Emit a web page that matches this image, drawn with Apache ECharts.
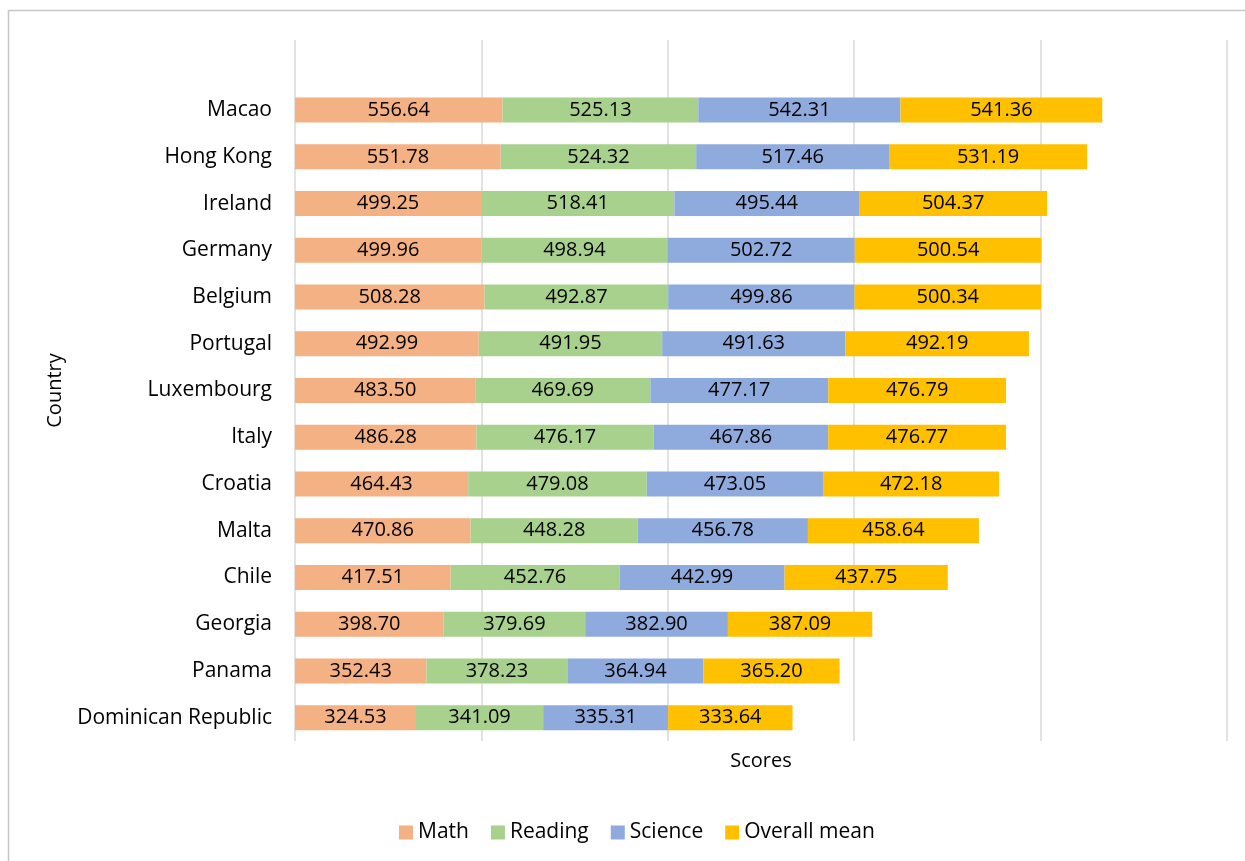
<!DOCTYPE html>
<html>
<head>
<meta charset="utf-8">
<script src="https://cdn.jsdelivr.net/npm/echarts@6/dist/echarts.min.js"></script>
<style>
  html, body { margin: 0; padding: 0; background: #fff; }
  #chart { width: 1245px; height: 861px; }
</style>
</head>
<body>
<div id="chart"></div>
<script>
// Countries, listed top to bottom
const countries = ['Macao', 'Hong Kong', 'Ireland', 'Germany', 'Belgium', 'Portugal', 'Luxembourg',
  'Italy', 'Croatia', 'Malta', 'Chile', 'Georgia', 'Panama', 'Dominican Republic'];

const math =    [556.64, 551.78, 499.25, 499.96, 508.28, 492.99, 483.50, 486.28, 464.43, 470.86, 417.51, 398.70, 352.43, 324.53];
const reading = [525.13, 524.32, 518.41, 498.94, 492.87, 491.95, 469.69, 476.17, 479.08, 448.28, 452.76, 379.69, 378.23, 341.09];
const science = [542.31, 517.46, 495.44, 502.72, 499.86, 491.63, 477.17, 467.86, 473.05, 456.78, 442.99, 382.90, 364.94, 335.31];
const overall = [541.36, 531.19, 504.37, 500.54, 500.34, 492.19, 476.79, 476.77, 472.18, 458.64, 437.75, 387.09, 365.20, 333.64];

const seriesNames = ['Math', 'Reading', 'Science', 'Overall mean'];
const seriesColors = ['#F4B183', '#A9D18E', '#8FAADC', '#FFC000'];

const FONT = 'Open Sans';

// an empty slot above the first country leaves headroom under the top of the grid
const yCats = [''].concat(countries);
const pad = arr => [null].concat(arr);

const chart = echarts.init(document.getElementById('chart'), null, { renderer: 'canvas' });

const mk = (name, data, color) => ({
  name: name,
  type: 'bar',
  stack: 'total',
  data: pad(data),
  barWidth: 25,
  itemStyle: { color: color },
  label: {
    show: true,
    position: 'inside',
    color: '#000',
    fontFamily: FONT,
    fontSize: 20,
    formatter: p => (p.value == null ? '' : Number(p.value).toFixed(2))
  },
  emphasis: { disabled: true }
});

chart.setOption({
  animation: false,
  backgroundColor: '#fff',
  textStyle: { fontFamily: FONT },
  graphic: [{
    type: 'rect',
    shape: { x: 8.5, y: 10.5, width: 1400, height: 1000 },
    style: { fill: 'none', stroke: '#c6c6c6', lineWidth: 1.5 },
    silent: true,
    z: -1
  }],
  legend: {
    data: seriesNames,
    left: 394,
    top: 817,
    itemWidth: 14,
    itemHeight: 14,
    itemGap: 22,
    icon: 'rect',
    textStyle: { fontFamily: FONT, fontSize: 21, color: '#000' }
  },
  grid: { left: 295, right: 18, top: 40, bottom: 120, containLabel: false },
  xAxis: {
    type: 'value',
    min: 0,
    max: 2500,
    interval: 500,
    name: 'Scores',
    nameLocation: 'middle',
    nameGap: 10,
    nameTextStyle: { fontFamily: FONT, fontSize: 20, color: '#000', verticalAlign: 'top' },
    axisLabel: { show: false },
    axisTick: { show: false },
    axisLine: { show: false },
    splitLine: { show: true, lineStyle: { color: '#d9d9d9', width: 1.5 } }
  },
  yAxis: {
    type: 'category',
    data: yCats,
    inverse: true,
    name: 'Country',
    nameLocation: 'middle',
    nameRotate: 90,
    nameGap: 230,
    nameTextStyle: { fontFamily: FONT, fontSize: 20, color: '#000' },
    axisLine: { show: false },
    axisTick: { show: false },
    axisLabel: { fontFamily: FONT, fontSize: 21, color: '#000', margin: 23 },
    splitLine: { show: false }
  },
  series: [
    mk(seriesNames[0], math, seriesColors[0]),
    mk(seriesNames[1], reading, seriesColors[1]),
    mk(seriesNames[2], science, seriesColors[2]),
    mk(seriesNames[3], overall, seriesColors[3])
  ]
});
</script>
</body>
</html>
